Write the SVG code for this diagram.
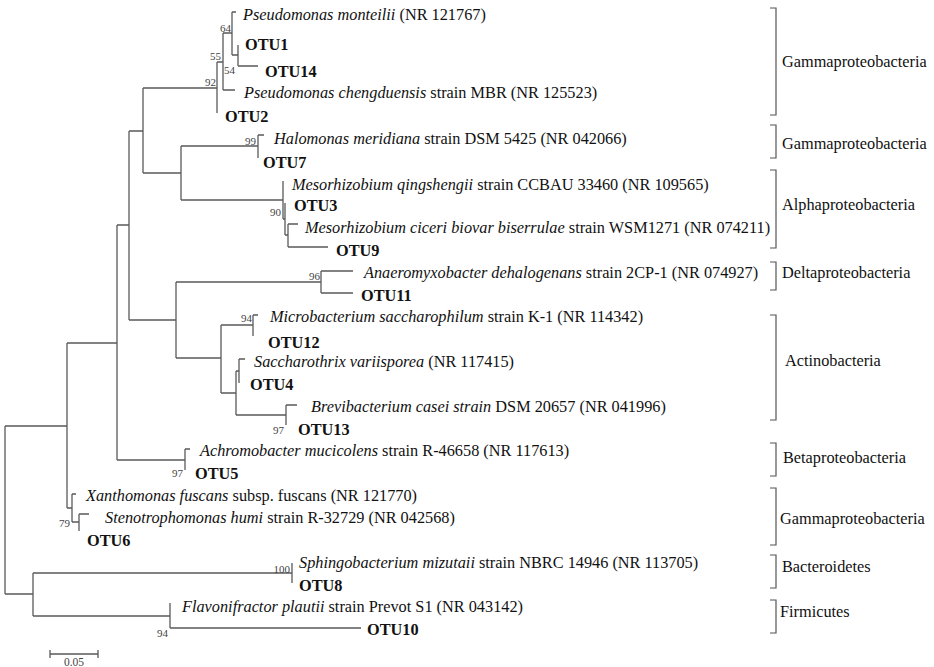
<svg xmlns="http://www.w3.org/2000/svg" width="934" height="667" viewBox="0 0 934 667">
<style>
.t{font-family:"Liberation Serif","Times New Roman",serif;font-size:16.3px;fill:#111}
.i{font-style:italic}
.b{font-weight:bold}
.bs{font-family:"Liberation Serif","Times New Roman",serif;font-size:11px;fill:#444}
.e{text-anchor:end}
.ln{fill:none;stroke:#5a5a5a;stroke-width:1.3}
.br{fill:none;stroke:#555;stroke-width:1.2}
</style>
<rect width="934" height="667" fill="#fff"/>
<g id="connectors" class="ln">
<path d="M5 426V594M5 426H67M5 594H33"/>
<path d="M67 343V508M67 343H117M67 508H72"/>
<path d="M117 225V460M117 225H129M117 460H185"/>
<path d="M129 131V320M129 131H143M129 320H176"/>
<path d="M143 88V173M143 88H217M143 173H181"/>
<path d="M217 62V113M217 62H223"/>
<path d="M223 33V90M223 33H232M223 90H235"/>
<path d="M232 12V55M232 12H236M232 55H238"/>
<path d="M238 45V66M238 66H258"/>
<path d="M181 146V200M181 146H258M181 200H283"/>
<path d="M258 135V158M258 135H264"/>
<path d="M283 181V219M283 219H285"/>
<path d="M285 203V235M285 235H288"/>
<path d="M288 224V247M288 224H298M288 247H328"/>
<path d="M176 282V358M176 282H321M176 358H221"/>
<path d="M321 271V293M321 271H353M321 293H353"/>
<path d="M221 325V393M221 325H253M221 393H236"/>
<path d="M253 315V336M253 315H258"/>
<path d="M236 371V415M236 371H239M236 415H286"/>
<path d="M239 359V383M239 359H245"/>
<path d="M286 405V425M286 405H297"/>
<path d="M185 449V470M185 449H190"/>
<path d="M72 494V522M72 494H76M72 522H79"/>
<path d="M79 514V531M79 514H89"/>
<path d="M33 573V616M33 573H292M33 616H170"/>
<path d="M292 563V583"/>
<path d="M170 603V628M170 628H361"/>
</g>
<g id="bootstrap" class="bs">
<text x="231" y="32" class="e">64</text>
<text x="221" y="60" class="e">55</text>
<text x="224" y="74">54</text>
<text x="216" y="86" class="e">92</text>
<text x="256" y="145" class="e">99</text>
<text x="281" y="216" class="e">90</text>
<text x="320" y="280" class="e">96</text>
<text x="252" y="322" class="e">94</text>
<text x="284" y="434" class="e">97</text>
<text x="183" y="477" class="e">97</text>
<text x="70" y="527" class="e">79</text>
<text x="290" y="573" class="e">100</text>
<text x="168" y="637" class="e">94</text>
</g>
<g id="leaf-pmonteilii"><text class="t" x="243" y="20"><tspan class="i">Pseudomonas monteilii</tspan> (NR 121767)</text></g>
<g id="leaf-otu1"><text class="t b" x="245" y="50">OTU1</text></g>
<g id="leaf-otu14"><text class="t b" x="265" y="77">OTU14</text></g>
<g id="leaf-pchengduensis"><text class="t" x="244" y="98"><tspan class="i">Pseudomonas chengduensis</tspan> strain MBR (NR 125523)</text></g>
<g id="leaf-otu2"><text class="t b" x="225" y="122">OTU2</text></g>
<g id="leaf-halomonas"><text class="t" x="274" y="144"><tspan class="i">Halomonas meridiana</tspan> strain DSM 5425 (NR 042066)</text></g>
<g id="leaf-otu7"><text class="t b" x="263" y="168">OTU7</text></g>
<g id="leaf-mqingshengii"><text class="t" x="292" y="190"><tspan class="i">Mesorhizobium qingshengii</tspan> strain CCBAU 33460 (NR 109565)</text></g>
<g id="leaf-otu3"><text class="t b" x="294" y="211">OTU3</text></g>
<g id="leaf-mciceri"><text class="t" x="305" y="233"><tspan class="i">Mesorhizobium ciceri biovar biserrulae</tspan> strain WSM1271 (NR 074211)</text></g>
<g id="leaf-otu9"><text class="t b" x="336" y="256">OTU9</text></g>
<g id="leaf-anaeromyxobacter"><text class="t" x="364" y="278"><tspan class="i">Anaeromyxobacter dehalogenans</tspan> strain 2CP-1 (NR 074927)</text></g>
<g id="leaf-otu11"><text class="t b" x="361" y="301">OTU11</text></g>
<g id="leaf-microbacterium"><text class="t" x="270" y="322"><tspan class="i">Microbacterium saccharophilum</tspan> strain K-1 (NR 114342)</text></g>
<g id="leaf-otu12"><text class="t b" x="268" y="348">OTU12</text></g>
<g id="leaf-saccharothrix"><text class="t" x="254" y="367"><tspan class="i">Saccharothrix variisporea</tspan> (NR 117415)</text></g>
<g id="leaf-otu4"><text class="t b" x="250" y="390">OTU4</text></g>
<g id="leaf-brevibacterium"><text class="t" x="311" y="412"><tspan class="i">Brevibacterium casei strain</tspan> DSM 20657 (NR 041996)</text></g>
<g id="leaf-otu13"><text class="t b" x="298" y="435">OTU13</text></g>
<g id="leaf-achromobacter"><text class="t" x="200" y="456"><tspan class="i">Achromobacter mucicolens</tspan> strain R-46658 (NR 117613)</text></g>
<g id="leaf-otu5"><text class="t b" x="195" y="479">OTU5</text></g>
<g id="leaf-xanthomonas"><text class="t" x="86" y="501"><tspan class="i">Xanthomonas fuscans</tspan> subsp. fuscans (NR 121770)</text></g>
<g id="leaf-stenotrophomonas"><text class="t" x="105" y="523"><tspan class="i">Stenotrophomonas humi</tspan> strain R-32729 (NR 042568)</text></g>
<g id="leaf-otu6"><text class="t b" x="87" y="546">OTU6</text></g>
<g id="leaf-sphingobacterium"><text class="t" x="299" y="568"><tspan class="i">Sphingobacterium mizutaii</tspan> strain NBRC 14946 (NR 113705)</text></g>
<g id="leaf-otu8"><text class="t b" x="299" y="591">OTU8</text></g>
<g id="leaf-flavonifractor"><text class="t" x="182" y="612"><tspan class="i">Flavonifractor plautii</tspan> strain Prevot S1 (NR 043142)</text></g>
<g id="leaf-otu10"><text class="t b" x="367" y="635">OTU10</text></g>
<g id="scale-bar">
<path class="ln" d="M50 654H98M50 650V658M98 650V658"/>
<text class="bs" x="74" y="666" text-anchor="middle" style="font-size:11.5px">0.05</text>
</g>
<g id="groups">
<path class="br" d="M770 8H776V115H770M770 125H776V158H770M770 170H776V248H770M770 262H776V290H770M770 315H776V420H770M770 443H776V476H770M770 488H776V545H770M770 555H776V588H770M770 600H776V633H770"/>
<text class="t" x="782" y="67">Gammaproteobacteria</text>
<text class="t" x="782" y="149">Gammaproteobacteria</text>
<text class="t" x="782" y="210">Alphaproteobacteria</text>
<text class="t" x="782" y="278">Deltaproteobacteria</text>
<text class="t" x="785" y="366">Actinobacteria</text>
<text class="t" x="783" y="463">Betaproteobacteria</text>
<text class="t" x="780" y="524">Gammaproteobacteria</text>
<text class="t" x="782" y="572">Bacteroidetes</text>
<text class="t" x="780" y="617">Firmicutes</text>
</g>
</svg>
